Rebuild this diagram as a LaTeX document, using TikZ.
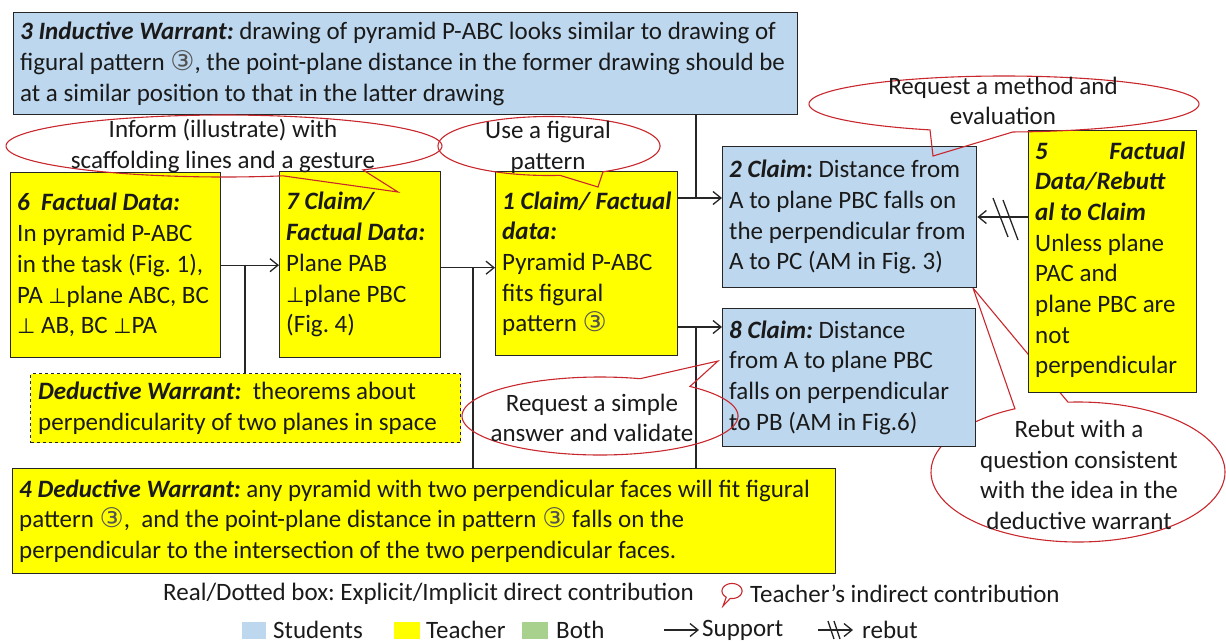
\documentclass[tikz,border=0pt]{standalone}
\usepackage{fontspec}
\setmainfont{Carlito}
\newfontfamily\symf{DejaVu Sans}
\usetikzlibrary{arrows.meta}
\definecolor{sblue}{HTML}{BDD7EE}
\definecolor{tyel}{HTML}{FFFF00}
\definecolor{bgreen}{HTML}{A9D18E}
\definecolor{cred}{HTML}{C8282D}
\definecolor{bord}{HTML}{262626}
\definecolor{txt}{HTML}{1A1A1A}
\newcommand\mfs{\fontsize{25}{30.7}\selectfont\frenchspacing}
\newcommand\bi[1]{\textbf{\textit{#1}}}
\newcommand\cthree{{\symf\fontsize{27}{27}\selectfont\color{txt!75}③}}
\newcommand\perpg{{\symf\fontsize{21}{21}\selectfont ⊥}}
\newcommand\callout[8]{\draw[callout] plot[domain=#5:#6, samples=120, smooth] ({#1+#3*cos(\x)},{#2+#4*sin(\x)}) -- (#7,#8) -- cycle;}
\begin{document}
\begin{tikzpicture}[x=1pt,y=-1pt,
  box/.style={draw=bord, line width=1.4pt, anchor=north west, inner sep=0pt},
  btext/.style={anchor=west, align=left, font=\mfs, text=txt, inner sep=0pt},
  conn/.style={draw=bord, line width=1.3pt},
  arr/.style={conn, -{Straight Barb[length=8pt,width=13pt,line width=1.3pt]}},
  callout/.style={draw=cred, line width=1.1pt},
  ctext/.style={align=center, font=\mfs, text=txt, inner sep=0pt},
  ltext/.style={anchor=west, font=\mfs, text=txt, inner sep=0pt}]
\useasboundingbox (0,0) rectangle (1226,643);

% callout behind box 5
\callout{1078}{472}{147}{70}{266.1}{604.6}{973}{288}

% boxes
\node[box, fill=sblue, minimum width=784pt, minimum height=102pt] (b3) at (13,12) {};
\node[btext] (t3) at ([xshift=7pt]b3.west)
 {\bi{3 Inductive Warrant:} drawing of pyramid P-ABC looks similar to drawing of\\
  figural pattern \cthree, the point-plane distance in the former drawing should be\\
  at a similar position to that in the latter drawing};
\node[box, fill=tyel, minimum width=210pt, minimum height=185pt] (b6) at (10,172) {};
\node[btext] (t6) at ([xshift=7pt]b6.west)
 {\bi{6\ \ Factual Data:}\\In pyramid P-ABC\\in the task (Fig. 1),\\PA \perpg plane ABC, BC\\\perpg\ AB, BC \perpg PA};
\node[box, fill=tyel, minimum width=161pt, minimum height=186pt] (b7) at (279,171) {};
\node[btext] (t7) at ([xshift=7pt]b7.west)
 {\bi{7 Claim/}\\\bi{Factual Data:}\\Plane PAB\\\perpg plane PBC\\(Fig. 4)};
\node[box, fill=tyel, minimum width=182pt, minimum height=184pt] (b1) at (495,171) {};
\node[btext] (t1) at ([xshift=7pt]b1.west)
 {\bi{1 Claim/ Factual}\\\bi{data:}\\Pyramid P-ABC\\fits figural\\pattern \cthree};
\node[box, fill=sblue, minimum width=254pt, minimum height=141pt] (b2) at (722,146) {};
\node[btext] (t2) at ([xshift=7pt]b2.west)
 {\bi{2 Claim}\textbf{:} Distance from\\A to plane PBC falls on\\the perpendicular from\\A to PC (AM in Fig. 3)};
\node[box, fill=sblue, minimum width=253pt, minimum height=138pt] (b8) at (722,308) {};
\node[btext] (t8) at ([xshift=7pt]b8.west)
 {\bi{8 Claim:} Distance\\from A to plane PBC\\falls on perpendicular\\to PB (AM in Fig.6)};
\node[box, fill=tyel, minimum width=168pt, minimum height=262pt] (b5) at (1028,130) {};
\node[btext] (t5) at ([xshift=7pt, yshift=2pt]b5.west)
 {\hbox to 150pt{\bi{5}\hfill\bi{Factual}}\\\bi{Data/Rebutt}\\\bi{al to Claim}\\Unless plane\\PAC and\\plane PBC are\\not\\perpendicular};
\node[box, fill=tyel, dashed, minimum width=430pt, minimum height=69pt] (dw) at (30,373) {};
\node[btext] (tdw) at ([xshift=8pt]dw.west)
 {\bi{Deductive Warrant:}\ \ theorems about\\perpendicularity of two planes in space};
\node[box, fill=tyel, minimum width=823pt, minimum height=105pt] (b4) at (12,468) {};
\node[btext] (t4) at ([xshift=7pt]b4.west)
 {\bi{4 Deductive Warrant:} any pyramid with two perpendicular faces will fit figural\\
  pattern \cthree,\ \ and the point-plane distance in pattern \cthree\ falls on the\\
  perpendicular to the intersection of the two perpendicular faces.};

% connectors
\draw[arr] (b6.east) -- (b7.west |- b6.east);
\coordinate (j1) at (245,264.5);
\draw[conn] (j1) -- (j1 |- dw.north);
\draw[arr] ([yshift=-3pt]b7.east) -- ([yshift=-3pt]b7.east -| b1.west);
\coordinate (j2) at (473,267);
\draw[conn] (j2) -- (j2 |- b4.north);
\draw[arr] (b1.east |- 0,198) -- (b2.west |- 0,198);
\coordinate (j3) at (696,198);
\draw[conn] (b3.south -| j3) -- (j3);
\draw[arr] (b1.east |- 0,327) -- (b8.west |- 0,327);
\coordinate (j4) at (696,327);
\draw[conn] (j4) -- (j4 |- b4.north);
\draw[arr] (b5.west |- 0,217) -- (b2.east |- 0,217);
\draw[conn] (993,198) -- (1008,237);
\draw[conn] (1003,200) -- (1018,240);

% callouts
\callout{224}{146}{218}{31}{74.3}{410.4}{398}{192}
\callout{549}{146}{111}{29.5}{84.3}{420.9}{598}{187}
\callout{1004}{104}{195}{28}{112.3}{447.4}{933}{156}
\callout{600}{416}{138}{39}{-49.3}{286.9}{718}{361}

\node[ctext] (ca) at (223,146) {Inform (illustrate) with\\scaffolding lines and a gesture};
\node[ctext] (cb) at (548,147) {Use a figural\\pattern};
\node[ctext] (cc) at (1003,101) {Request a method and\\evaluation};
\node[ctext] (cd) at (592,418) {Request a simple\\answer and validate};
\node[ctext] (ce) at (1079,475) {Rebut with a\\question consistent\\with the idea in the\\deductive warrant};

% legend
\node[ltext] (l1) at (163,594) {Real/Dotted box: Explicit/Implicit direct contribution};
\callout{732}{591}{10}{7.5}{125}{460}{723}{606}
\node[ltext] (l2) at (750,594) {Teacher’s indirect contribution};
\fill[sblue] (242,622) rectangle (266,639);
\node[ltext] (l3) at (273,630) {Students};
\fill[tyel] (394,622) rectangle (420,639);
\node[ltext] (l4) at (426,630) {Teacher};
\fill[bgreen] (522,622) rectangle (548,639);
\node[ltext] (l5) at (556,630) {Both};
\coordinate (s1) at (664,630);
\coordinate (s2) at (699,630);
\draw[arr] (s1) -- (s2);
\node[ltext] (l6) at (702,630) {Support};
\coordinate (r1) at (818,630);
\coordinate (r2) at (853,630);
\draw[arr] (r1) -- (r2);
\draw[conn] (828,621) -- (834,639);
\draw[conn] (834,621) -- (840,639);
\node[ltext] (l7) at (862,630) {rebut};
\end{tikzpicture}
\end{document}
